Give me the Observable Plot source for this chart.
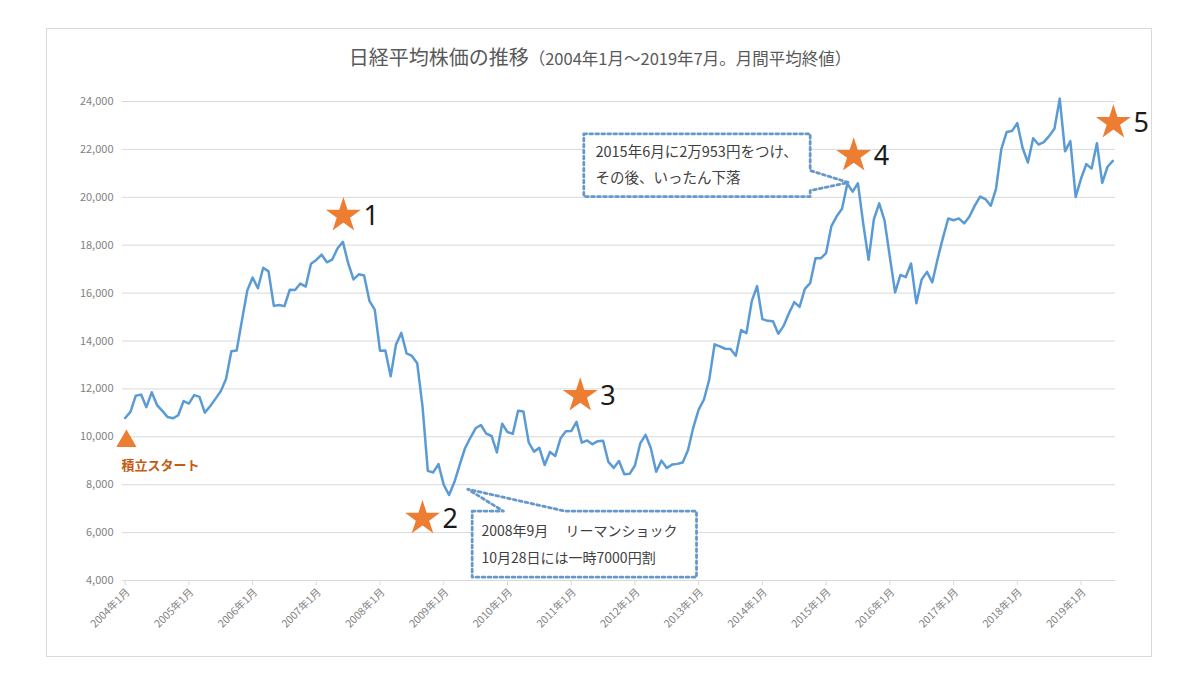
<!DOCTYPE html>
<html><head><meta charset="utf-8">
<script src="https://cdn.jsdelivr.net/npm/d3@7"></script>
<script src="https://cdn.jsdelivr.net/npm/@observablehq/plot@0.6"></script>
<style>
body{margin:0;background:#fff;}
#wrap{position:relative;width:1200px;height:683px;overflow:hidden;background:#fff;}
#frame{position:absolute;left:46px;top:28px;width:1106px;height:629px;border:1px solid #d9d9d9;box-sizing:border-box;}
#title{position:absolute;left:0;width:1200px;top:43px;text-align:center;font-family:"Noto Sans CJK JP",sans-serif;color:#595959;font-size:20px;line-height:28px;white-space:nowrap;}
#title .sub{font-size:16.5px;}
#chart{position:absolute;left:0;top:0;}
</style></head><body>
<div id="wrap"><div id="frame"></div>
<div id="title">日経平均株価の推移<span class="sub">（2004年1月～2019年7月。月間平均終値）</span></div>
<div id="chart"></div></div>
<script>
// Nikkei 225 monthly values, 2004-01 .. 2019-07
const nikkei = [
  10783, 11041, 11715, 11762, 11236, 11858, 11325, 11081, 10823, 10771, 10899, 11488,
  11387, 11740, 11668, 11008, 11276, 11584, 11899, 12413, 13574, 13606, 14872, 16111,
  16649, 16205, 17059, 16906, 15467, 15505, 15456, 16140, 16127, 16399, 16274, 17225,
  17383, 17604, 17287, 17400, 17875, 18138, 17248, 16569, 16785, 16737, 15680, 15307,
  13592, 13603, 12525, 13849, 14338, 13481, 13376, 13072, 11259, 8576, 8512, 8859,
  7994, 7568, 8109, 8828, 9522, 9958, 10356, 10492, 10133, 10034, 9345, 10546,
  10198, 10126, 11089, 11057, 9768, 9382, 9537, 8824, 9369, 9202, 9937, 10228,
  10237, 10624, 9755, 9849, 9693, 9816, 9833, 8955, 8700, 8988, 8434, 8455,
  8802, 9723, 10083, 9520, 8542, 9006, 8695, 8839, 8870, 8928, 9446, 10395,
  11138, 11559, 12397, 13860, 13774, 13677, 13668, 13388, 14456, 14327, 15662, 16291,
  14914, 14841, 14828, 14304, 14632, 15162, 15621, 15425, 16174, 16414, 17459, 17451,
  17674, 18798, 19207, 19520, 20563, 20236, 20585, 18890, 17388, 19083, 19747, 19034,
  17518, 16027, 16759, 16666, 17235, 15576, 16569, 16887, 16450, 17425, 18308, 19114,
  19041, 19119, 18909, 19197, 19651, 20033, 19925, 19646, 20356, 22012, 22725, 22765,
  23098, 22068, 21454, 22468, 22202, 22305, 22554, 22865, 24120, 21920, 22351, 20015,
  20773, 21385, 21206, 22259, 20601, 21276, 21522
];
const xTickIndex = [0, 12, 24, 36, 48, 60, 72, 84, 96, 108, 120, 132, 144, 156, 168, 180];
const xTickLabels = ["2004年1月","2005年1月","2006年1月","2007年1月","2008年1月","2009年1月","2010年1月","2011年1月",
  "2012年1月","2013年1月","2014年1月","2015年1月","2016年1月","2017年1月","2018年1月","2019年1月"];
const yTicks = [4000, 6000, 8000, 10000, 12000, 14000, 16000, 18000, 20000, 22000, 24000];

// annotations (month index, value)
const stars = [
  {i: 41.1, v: 19240, label: "1"},
  {i: 56.0, v: 6590, label: "2"},
  {i: 85.7, v: 11720, label: "3"},
  {i: 137.2, v: 21740, label: "4"},
  {i: 186.1, v: 23120, label: "5"}
];
const startMark = [{i: 0.24, v: 9816, label: "積立スタート"}];
const box1Outline = [
  {i: 65.35, v: 6893}, {i: 71.24, v: 6893}, {i: 64.52, v: 7812}, {i: 82.9, v: 6893},
  {i: 107.6, v: 6893}, {i: 107.6, v: 4138}, {i: 65.35, v: 4138}, {i: 65.35, v: 6893}
];
const box1Text = [
  {i: 67.1, v: 6046, text: "2008年9月　 リーマンショック"},
  {i: 67.1, v: 4918, text: "10月28日には一時7000円割"}
];
const box2Outline = [
  {i: 86.37, v: 22650}, {i: 129.0, v: 22650}, {i: 129.0, v: 21117}, {i: 136.2, v: 20617},
  {i: 129.0, v: 20282}, {i: 129.0, v: 20032}, {i: 86.37, v: 20032}, {i: 86.37, v: 22650}
];
const box2Text = [
  {i: 88.57, v: 21869, text: "2015年6月に2万953円をつけ、"},
  {i: 88.57, v: 20784, text: "その後、いったん下落"}
];

const orange = "#ed7d31";
const dotted = "#6699c9";
const font = '"Noto Sans CJK JP", sans-serif';

const chart = Plot.plot({
  width: 1200, height: 683,
  marginLeft: 122, marginRight: 85, marginTop: 101, marginBottom: 103,
  style: {fontFamily: font, background: "transparent", overflow: "visible"},
  x: {domain: [-0.5, 186.5]},
  y: {domain: [4000, 24000]},
  marks: [
    Plot.gridY({ticks: yTicks, stroke: "#d9d9d9", strokeOpacity: 1, strokeWidth: 1}),
    Plot.axisY({ticks: yTicks, tickSize: 0, tickPadding: 9, tickFormat: d3.format(","), fontSize: 11, fill: "#7f7f7f", label: null}),
    Plot.axisX({ticks: xTickIndex, tickFormat: () => "", tickSize: 5, stroke: "#d9d9d9", label: null}),
    Plot.text(xTickIndex, {x: d => d, y: () => 4000, text: d => xTickLabels[d / 12], rotate: -45, textAnchor: "end",
      dx: 3, dy: 10, fontSize: 10.5, fill: "#7f7f7f"}),
    Plot.line(nikkei, {x: (d, i) => i, y: d => d, stroke: "#5b9bd5", strokeWidth: 2.5, strokeLinejoin: "round"}),
    Plot.line(box1Outline, {x: "i", y: "v", fill: "white", stroke: dotted, strokeWidth: 2.8, strokeDasharray: "2.8,3.2", curve: "linear"}),
    Plot.line(box2Outline, {x: "i", y: "v", fill: "white", stroke: dotted, strokeWidth: 2.8, strokeDasharray: "2.8,3.2", curve: "linear"}),
    Plot.text(box1Text, {x: "i", y: "v", text: "text", textAnchor: "start", fontSize: 14, fill: "#404040"}),
    Plot.text(box2Text, {x: "i", y: "v", text: "text", textAnchor: "start", fontSize: 14.5, fill: "#404040"}),
    Plot.dot(stars, {x: "i", y: "v", symbol: "star", r: 11, fill: orange, stroke: "none"}),
    Plot.text(stars, {x: "i", y: "v", text: "label", dx: 20, dy: 1, textAnchor: "start", fontSize: 27, fill: "#1a1a1a", fontFamily: '"Noto Sans", sans-serif'}),
    Plot.dot(startMark, {x: "i", y: "v", symbol: "triangle", r: 7.5, fill: orange, stroke: "none"}),
    Plot.text(startMark, {x: "i", y: "v", text: "label", dx: 34, dy: 25, fontSize: 13, fontWeight: "bold", fill: "#c55a11"})
  ]
});
document.getElementById("chart").appendChild(chart);
</script>
</body></html>
